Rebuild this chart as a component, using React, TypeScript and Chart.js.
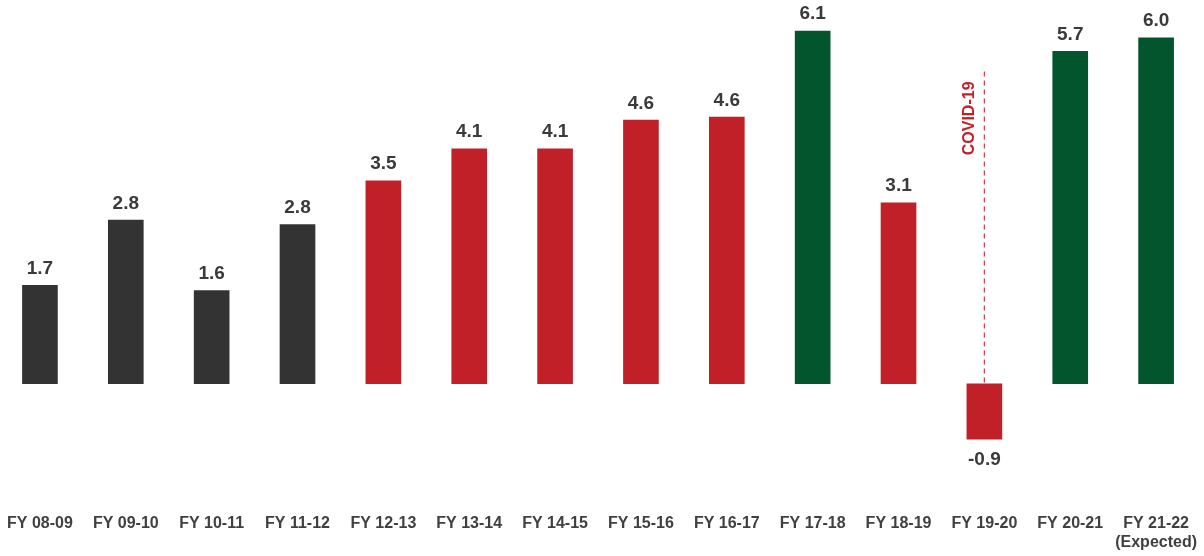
import React, { useEffect, useRef } from "react";
import { Chart, registerables } from "chart.js";

Chart.register(...registerables);

const categories: (string | string[])[] = [
  "FY 08-09", "FY 09-10", "FY 10-11", "FY 11-12", "FY 12-13", "FY 13-14", "FY 14-15",
  "FY 15-16", "FY 16-17", "FY 17-18", "FY 18-19", "FY 19-20", "FY 20-21", ["FY 21-22", "(Expected)"],
];
const growthValues = [1.7, 2.83, 1.61, 2.75, 3.51, 4.06, 4.06, 4.56, 4.61, 6.1, 3.13, -0.96, 5.75, 5.98];
const valueLabels = ["1.7", "2.8", "1.6", "2.8", "3.5", "4.1", "4.1", "4.6", "4.6", "6.1", "3.1", "-0.9", "5.7", "6.0"];
const barGroups = ["gray", "gray", "gray", "gray", "red", "red", "red", "red", "red", "green", "red", "red", "green", "green"];
const covidIndex = 11;
const covidLineTop = 5.4;
const covidText = "COVID-19";

const COLORS: Record<string, string> = { gray: "#333333", red: "#C22029", green: "#02552C" };
const FONT = "'Liberation Sans', Arial, sans-serif";

const labelsPlugin = {
  id: "valueLabels",
  beforeDatasetsDraw(chart: any) {
    const { ctx } = chart;
    const x = chart.scales.x.getPixelForValue(covidIndex);
    const y0 = chart.scales.y.getPixelForValue(0);
    const y1 = chart.scales.y.getPixelForValue(covidLineTop);
    ctx.save();
    ctx.strokeStyle = "#D0464E";
    ctx.lineWidth = 1.3;
    ctx.setLineDash([5, 4]);
    ctx.beginPath();
    ctx.moveTo(x, y1);
    ctx.lineTo(x, y0);
    ctx.stroke();
    ctx.setLineDash([]);
    ctx.translate(x - 10, y1 + 10);
    ctx.rotate(-Math.PI / 2);
    ctx.fillStyle = "#C22029";
    ctx.font = `bold 16px ${FONT}`;
    ctx.textAlign = "right";
    ctx.textBaseline = "alphabetic";
    ctx.fillText(covidText, 0, 0);
    ctx.restore();
  },
  afterDatasetsDraw(chart: any) {
    const { ctx } = chart;
    const meta = chart.getDatasetMeta(0);
    ctx.save();
    ctx.fillStyle = "#3A3A3A";
    ctx.font = `bold 19px ${FONT}`;
    ctx.textAlign = "center";
    ctx.textBaseline = "alphabetic";
    meta.data.forEach((bar: any, i: number) => {
      const v = growthValues[i];
      if (v >= 0) {
        ctx.fillText(valueLabels[i], bar.x, bar.y - 11.5);
      } else {
        ctx.fillText(valueLabels[i], bar.x, bar.y + 26);
      }
    });
    ctx.restore();
  },
};

export default function App() {
  const canvasRef = useRef<HTMLCanvasElement | null>(null);
  useEffect(() => {
    if (!canvasRef.current) return;
    const chart = new Chart(canvasRef.current, {
      type: "bar",
      data: {
        labels: categories,
        datasets: [
          {
            data: growthValues,
            backgroundColor: barGroups.map((g) => COLORS[g]),
            barThickness: 35,
          },
        ],
      },
      options: {
        animation: false,
        responsive: true,
        maintainAspectRatio: false,
        layout: { padding: { top: 0, bottom: 1, left: 0, right: 0 } },
        plugins: { legend: { display: false }, tooltip: { enabled: false } },
        scales: {
          x: {
            grid: { display: false },
            border: { display: false },
            ticks: {
              color: "#404040",
              font: { family: FONT, size: 16, weight: "bold" },
              maxRotation: 0,
              autoSkip: false,
              padding: 3,
            },
          },
          y: { display: false, min: -2.056, max: 6.636 },
        },
      },
      plugins: [labelsPlugin],
    });
    return () => chart.destroy();
  }, []);
  return (
    <div style={{ position: "fixed", left: -3, top: 0, width: 1203, height: 556, background: "#fff" }}>
      <canvas ref={canvasRef} />
    </div>
  );
}
